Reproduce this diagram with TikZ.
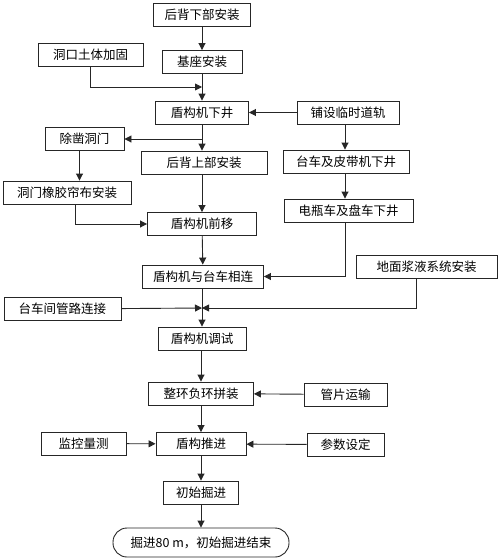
\documentclass[tikz,border=0pt]{standalone}
\usepackage{fontspec}
\setmainfont{Noto Sans CJK SC}
\usetikzlibrary{arrows.meta,positioning,calc}

\begin{document}
\begin{tikzpicture}[
    x=1pt, y=-1pt,
    box/.style={draw=black!85, line width=0.9pt, minimum height=23pt, inner sep=2pt, font=\fontsize{12.5}{14}\selectfont},
    arr/.style={-{Triangle[length=7pt, width=7pt]}, line width=0.9pt, draw=black!85},
    ln/.style={line width=0.9pt, draw=black!85}
]
\useasboundingbox (0,0) rectangle (500,560);

% main column
\node[box, minimum width=97pt] (hbx) at (202,15) {后背下部安装};
\node[box, minimum width=80pt] (jz) at (202,62) {基座安装};
\node[box, minimum width=93pt] (xj) at (202,112.5) {盾构机下井};
\node[box, minimum width=126pt] (hbs) at (204,162.5) {后背上部安装};
\node[box, minimum width=109pt] (qy) at (202,224) {盾构机前移};
\node[box, minimum width=121pt] (xl) at (203,276.5) {盾构机与台车相连};
\node[box, minimum width=88pt] (ts) at (202,338.5) {盾构机调试};
\node[box, minimum width=105pt] (pz) at (201,393.5) {整环负环拼装};
\node[box, minimum width=90pt] (tj) at (201,444) {盾构推进};
\node[box, minimum width=75pt] (csj) at (201,492.5) {初始掘进};
\node[box, rounded corners=14pt, minimum width=176pt, minimum height=29pt] (end) at (201,542.5) {掘进80 m，初始掘进结束};

% left side
\node[box, minimum width=105pt] (dk) at (90.5,54.5) {洞口土体加固};
\node[box, minimum width=79pt] (cz) at (84.5,139) {除凿洞门};
\node[box, minimum width=128pt] (xjb) at (67,192.5) {洞门橡胶帘布安装};
\node[box, minimum width=117pt] (gl) at (62.5,309) {台车间管路连接};
\node[box, minimum width=85pt] (jk) at (83.5,443.5) {监控量测};

% right side
\node[box, minimum width=102pt] (pd) at (348,112.5) {铺设临时道轨};
\node[box, minimum width=126pt] (tc) at (346,161.5) {台车及皮带机下井};
\node[box, minimum width=129pt] (dp) at (348.5,210.5) {电瓶车及盘车下井};
\node[box, minimum width=141pt] (jy) at (426.5,266.5) {地面浆液系统安装};
\node[box, minimum width=83pt] (gp) at (345.5,394.5) {管片运输};
\node[box, minimum width=77pt] (cs) at (345.5,444.5) {参数设定};

\coordinate (j1) at (202,87);
\coordinate (j3) at (202,308);

\draw[arr] (hbx) -- (jz);
\draw[arr] (jz) -- (xj);
\draw[arr] (dk.south) |- (j1);
\draw[arr] (pd) -- (xj);
\draw[arr] (xj.south) |- (cz.east);
\draw[arr] (xj.south) -- (xj.south |- hbs.north);
\draw[arr] ([xshift=-5pt]cz.south) -- ([xshift=-5pt]cz.south |- xjb.north);
\draw[arr] ([xshift=8pt]xjb.south) |- (qy.west);
\draw[arr] (hbs.south -| qy.north) -- (qy.north);
\draw[arr] (qy) -- (xl);
\draw[arr] ([xshift=-3pt]pd.south) -- ([xshift=-3pt]pd.south |- tc.north);
\draw[arr] (tc.south -| pd.south) ++(-3pt,0) -- ([xshift=-3pt]pd.south |- dp.north);
\draw[arr] ([xshift=-3pt]dp.south) |- (xl.east);
\draw[ln] (xl.south -| j3) -- (j3);
\draw[arr] (gl) -- (j3);
\draw[arr] ([xshift=-10pt]jy.south) |- (j3);
\draw[arr] (j3) -- (j3 |- ts.north);
\draw[arr] (ts.south -| pz.north) -- (pz.north);
\draw[arr] (gp) -- (pz);
\draw[arr] (pz) -- (tj);
\draw[arr] (jk) -- (tj);
\draw[arr] (cs) -- (tj);
\draw[arr] (tj) -- (csj);
\draw[arr] (csj) -- (end);
\end{tikzpicture}
\end{document}
